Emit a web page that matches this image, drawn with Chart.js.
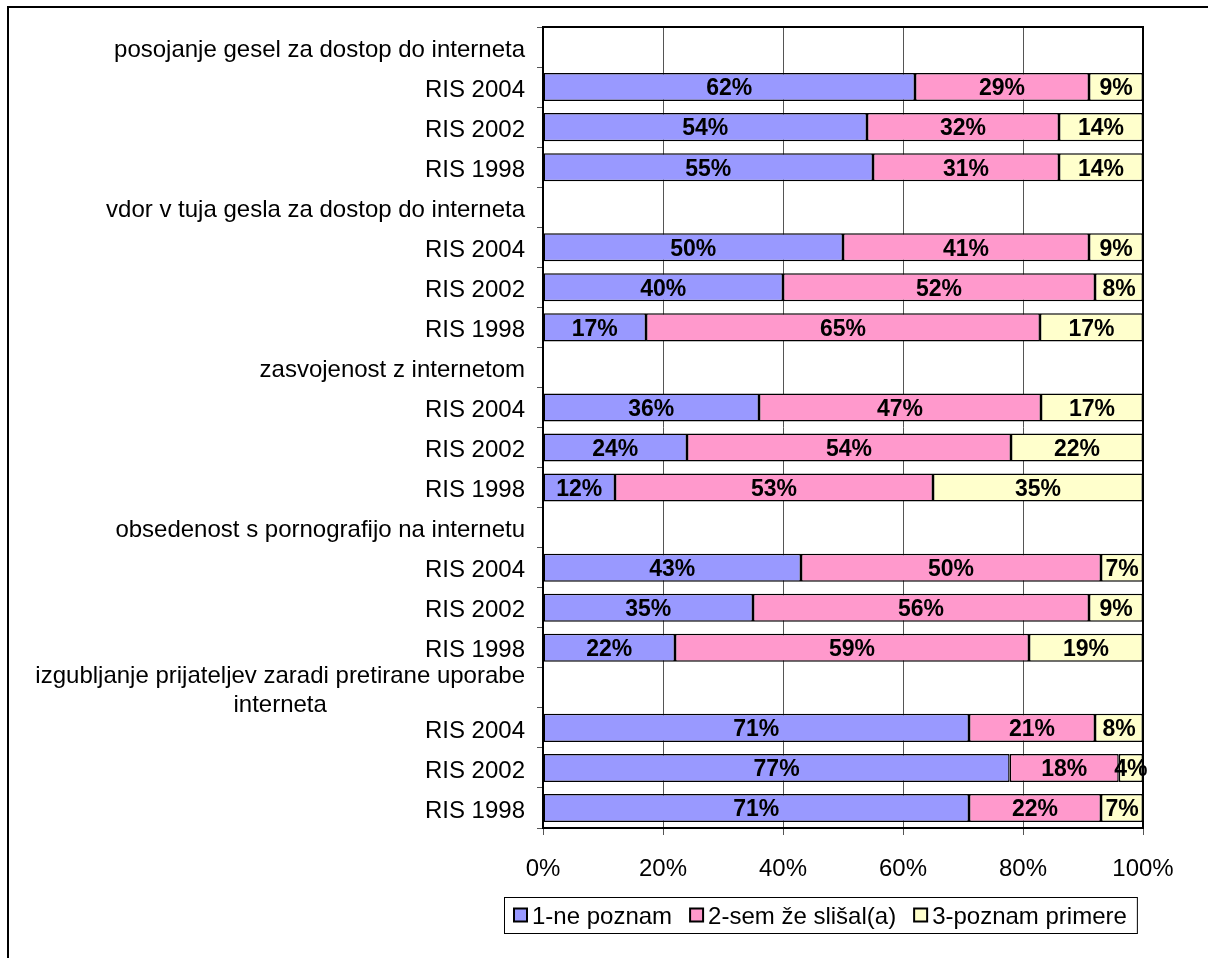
<!DOCTYPE html>
<html>
<head>
<meta charset="utf-8">
<script src="https://cdn.jsdelivr.net/npm/chart.js@4"></script>
<style>
  html, body { margin: 0; padding: 0; background: #fff; overflow: hidden; }
  canvas { display: block; }
</style>
</head>
<body>
<canvas id="myChart" width="1208" height="958"></canvas>
<script>
// categories, top to bottom (group header rows have no bar)
const categories = [
  "posojanje gesel za dostop do interneta", "RIS 2004", "RIS 2002", "RIS 1998",
  "vdor v tuja gesla za dostop do interneta", "RIS 2004", "RIS 2002", "RIS 1998",
  "zasvojenost z internetom", "RIS 2004", "RIS 2002", "RIS 1998",
  "obsedenost s pornografijo na internetu", "RIS 2004", "RIS 2002", "RIS 1998",
  ["izgubljanje prijateljev zaradi pretirane uporabe", "interneta"], "RIS 2004", "RIS 2002", "RIS 1998"
];

const seriesNames = ["1-ne poznam", "2-sem že slišal(a)", "3-poznam primere"];

// values in % as printed on the bars
const nePoznam      = [null, 62, 54, 55, null, 50, 40, 17, null, 36, 24, 12, null, 43, 35, 22, null, 71, 77, 71];
const semSlisal     = [null, 29, 32, 31, null, 41, 52, 65, null, 47, 54, 53, null, 50, 56, 59, null, 21, 18, 22];
const poznamPrimere = [null,  9, 14, 14, null,  9,  8, 17, null, 17, 22, 35, null,  7,  9, 19, null,  8,  4,  7];

const xTicks = [0, 20, 40, 60, 80, 100];

const colors = ["#9999FF", "#FF99CC", "#FFFFCC"];
const FONT = "'Liberation Sans', Arial, sans-serif";

// 100% stacked: scale each row to its total
const allSeries = [nePoznam, semSlisal, poznamPrimere];
const totals = categories.map((c, i) => allSeries.reduce((s, arr) => s + (arr[i] || 0), 0));
function share(arr) {
  return arr.map((v, i) => (v == null || !totals[i]) ? null : v / totals[i] * 100);
}

// outer frame + plot border
const framePlugin = {
  id: "frame",
  beforeDraw(chart) {
    const ctx = chart.ctx;
    ctx.save();
    ctx.fillStyle = "#fff";
    ctx.fillRect(0, 0, chart.width, chart.height);
    ctx.strokeStyle = "#000";
    ctx.lineWidth = 2;
    ctx.strokeRect(8, 7, 1400, 1200);
    ctx.restore();
  },
  afterDatasetsDraw(chart) {
    const a = chart.chartArea;
    const ctx = chart.ctx;
    ctx.save();
    ctx.strokeStyle = "#000";
    ctx.lineWidth = 2;
    ctx.strokeRect(a.left, a.top, a.right - a.left, a.bottom - a.top);
    ctx.restore();
  }
};

// category labels, multi-line ones centred like Excel
const catLabelPlugin = {
  id: "catLabels",
  afterDraw(chart) {
    const y = chart.scales.y;
    const ctx = chart.ctx;
    ctx.save();
    ctx.font = "24px " + FONT;
    ctx.fillStyle = "#000";
    ctx.textAlign = "center";
    ctx.textBaseline = "middle";
    const xRight = y.right - 18;
    const lh = 29;
    categories.forEach((lab, i) => {
      const lines = Array.isArray(lab) ? lab : [lab];
      const w = Math.max(...lines.map(l => ctx.measureText(l).width));
      const cy = y.getPixelForValue(i) + 3;
      lines.forEach((l, j) => {
        ctx.fillText(l, xRight - w / 2, cy + (j - (lines.length - 1) / 2) * lh);
      });
    });
    ctx.restore();
  }
};

// value labels in the middle of each segment
const valueLabelPlugin = {
  id: "valueLabels",
  afterDatasetsDraw(chart) {
    const ctx = chart.ctx;
    ctx.save();
    ctx.font = "bold 23px " + FONT;
    ctx.fillStyle = "#000";
    ctx.textAlign = "center";
    ctx.textBaseline = "middle";
    chart.data.datasets.forEach((ds, di) => {
      const meta = chart.getDatasetMeta(di);
      meta.data.forEach((bar, i) => {
        const raw = allSeries[di][i];
        if (raw == null) return;
        ctx.fillText(raw + "%", (bar.x + bar.base) / 2, bar.y + 2);
      });
    });
    ctx.restore();
  }
};

// legend with a box around it
const legendPlugin = {
  id: "boxLegend",
  afterDraw(chart) {
    const ctx = chart.ctx;
    ctx.save();
    ctx.font = "24px " + FONT;
    const sq = 13, gap = 5, itemGap = 18, padX = 10;
    const widths = seriesNames.map(n => ctx.measureText(n).width);
    let total = padX * 2;
    widths.forEach((w, i) => { total += sq + gap + w + (i < widths.length - 1 ? itemGap : 0); });
    const cx = 820, top = 897, h = 36;
    const left = Math.round(cx - total / 2);
    ctx.fillStyle = "#fff";
    ctx.fillRect(left, top, total, h);
    ctx.strokeStyle = "#000";
    ctx.lineWidth = 1;
    ctx.strokeRect(left + 0.5, top + 0.5, total, h);
    let x = left + padX;
    const my = top + h / 2;
    seriesNames.forEach((n, i) => {
      ctx.fillStyle = colors[i];
      ctx.fillRect(x, my - sq / 2, sq, sq);
      ctx.lineWidth = 2;
      ctx.strokeStyle = "#000";
      ctx.strokeRect(x, my - sq / 2, sq, sq);
      ctx.fillStyle = "#000";
      ctx.textAlign = "left";
      ctx.textBaseline = "middle";
      ctx.fillText(n, x + sq + gap, my + 2);
      x += sq + gap + widths[i] + itemGap;
    });
    ctx.restore();
  }
};

const ctx = document.getElementById("myChart").getContext("2d");
const chart = new Chart(ctx, {
  type: "bar",
  data: {
    labels: categories,
    datasets: allSeries.map((arr, i) => ({
      label: seriesNames[i],
      data: share(arr),
      backgroundColor: colors[i],
      borderColor: "#000",
      borderWidth: 1.5,
      borderSkipped: false,
      barPercentage: 0.7,
      categoryPercentage: 1.0
    }))
  },
  options: {
    indexAxis: "y",
    responsive: false,
    animation: false,
    layout: { padding: { left: 0, top: 27, right: 65, bottom: 0 } },
    plugins: {
      legend: { display: false },
      tooltip: { enabled: false }
    },
    scales: {
      x: {
        stacked: true,
        min: 0,
        max: 100,
        afterFit(scale) { scale.height = 130; },
        afterBuildTicks(scale) { scale.ticks = xTicks.map(v => ({ value: v })); },
        ticks: {
          callback: v => v + "%",
          font: { family: FONT, size: 24 },
          color: "#000",
          padding: 20,
          maxRotation: 0
        },
        grid: { color: "#555", lineWidth: 1, tickLength: 7 },
        border: { display: false }
      },
      y: {
        stacked: true,
        afterFit(scale) { scale.width = 543; },
        ticks: { display: false },
        grid: { drawOnChartArea: false, offset: true, tickLength: 6, color: "#555" },
        border: { display: false }
      }
    }
  },
  plugins: [framePlugin, catLabelPlugin, valueLabelPlugin, legendPlugin]
});
</script>
</body>
</html>
